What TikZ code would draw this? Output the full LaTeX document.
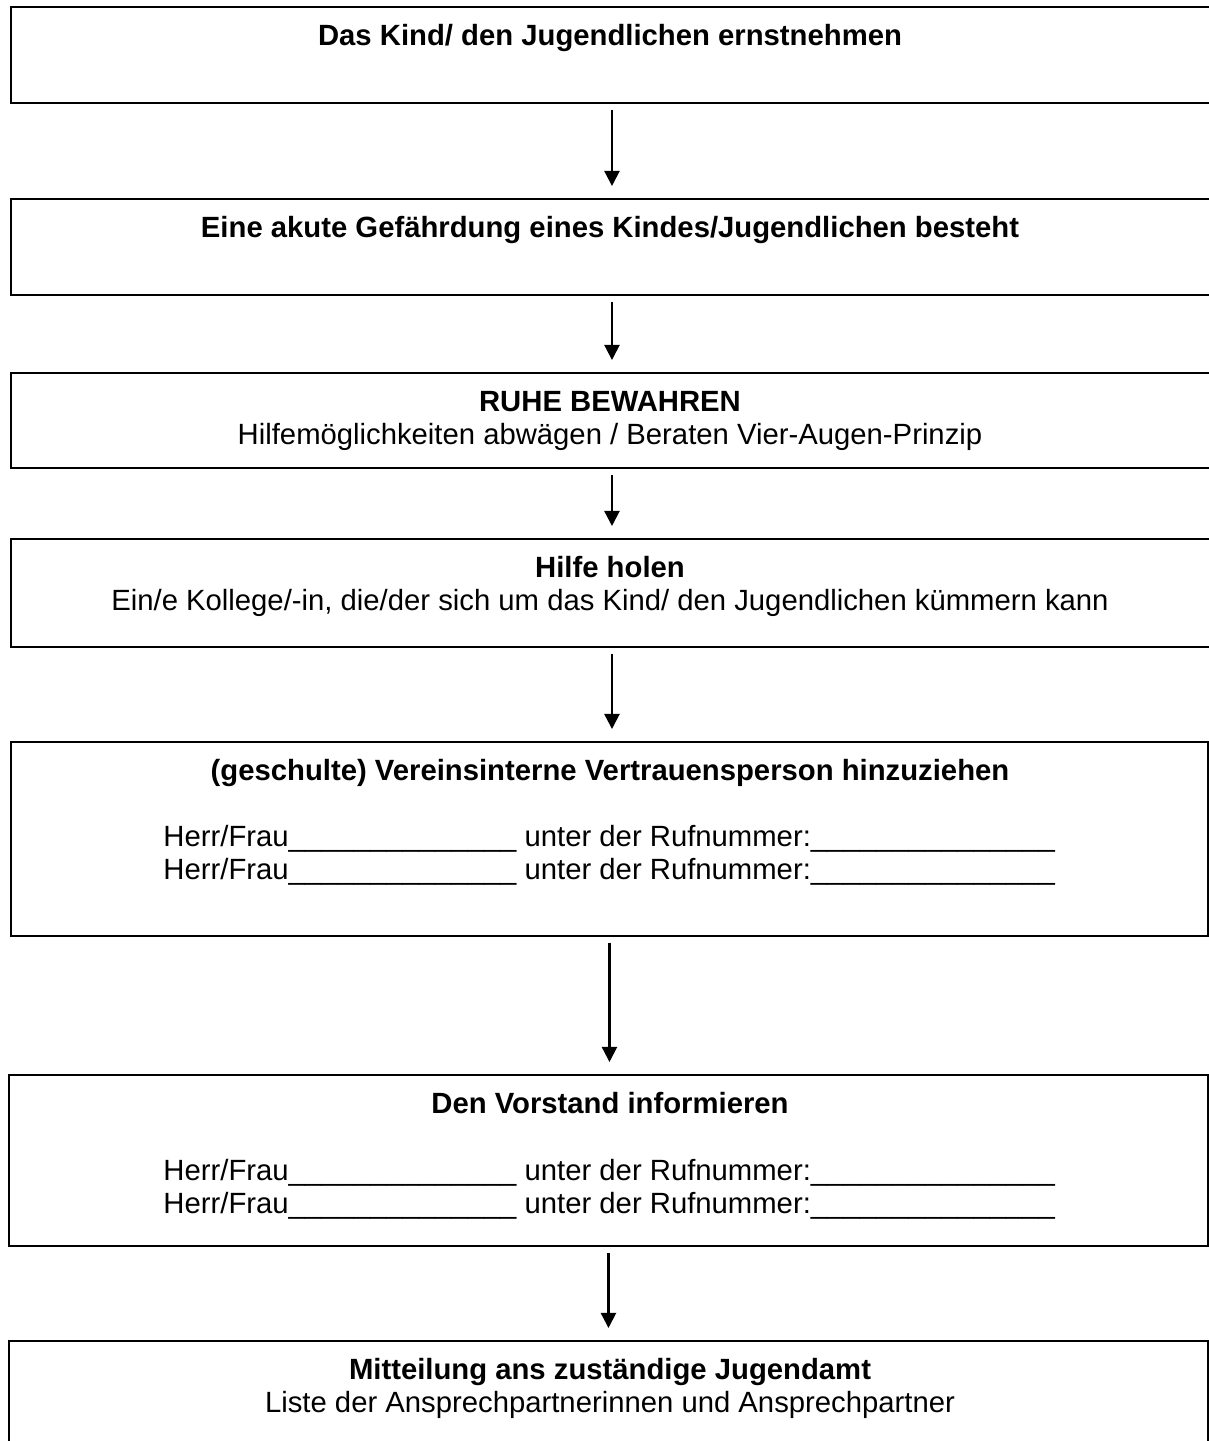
\documentclass[tikz,border=0pt]{standalone}
\usepackage{fontspec}
\setmainfont{Liberation Sans}
\usetikzlibrary{arrows.meta}

\def\pu{0.41pt}
\newcommand{\herrline}{Herr/Frau\_\_\_\_\_\_\_\_\_\_\_\_\_\_ unter der Rufnummer:\_\_\_\_\_\_\_\_\_\_\_\_\_\_\_}

\tikzset{
	box/.style={draw, line width=0.8pt, rectangle, inner sep=0pt, anchor=north west},
	title/.style={anchor=base, inner sep=0pt, font=\fontsize{12}{14}\selectfont\bfseries},
	plain/.style={anchor=base, inner sep=0pt, font=\fontsize{12}{14}\selectfont},
	entry/.style={anchor=base west, inner sep=0pt, font=\fontsize{12}{14}\selectfont},
	arr/.style={-{Triangle[width=6.2pt,length=6.2pt]}, line width=0.85pt, shorten <=6*\pu, shorten >=12*\pu}
}

\begin{document}
\begin{tikzpicture}[x=\pu, y=-\pu]
	\useasboundingbox (0,0) rectangle (1209,1441);
	\node[box, minimum width=1202*\pu, minimum height=96*\pu] (b1) at (10,6) {};
	\node[box, minimum width=1202*\pu, minimum height=96*\pu] (b2) at (10,198) {};
	\node[box, minimum width=1202*\pu, minimum height=95*\pu] (b3) at (10,372) {};
	\node[box, minimum width=1202*\pu, minimum height=108*\pu] (b4) at (10,538) {};
	\node[box, minimum width=1197*\pu, minimum height=194*\pu] (b5) at (10,741) {};
	\node[box, minimum width=1199*\pu, minimum height=171*\pu] (b6) at (8,1074) {};
	\node[box, minimum width=1199*\pu, minimum height=130*\pu] (b7) at (8,1340) {};
	\node[title] (t1) at (610,45) {Das Kind/ den Jugendlichen ernstnehmen};
	\node[title] (t2) at (610,237) {Eine akute Gefährdung eines Kindes/Jugendlichen besteht};
	\node[title] (t3) at (610,411) {RUHE BEWAHREN};
	\node[plain] (s3) at (610,444) {Hilfemöglichkeiten abwägen / Beraten Vier-Augen-Prinzip};
	\node[title] (t4) at (610,577) {Hilfe holen};
	\node[plain] (s4) at (610,610) {Ein/e Kollege/-in, die/der sich um das Kind/ den Jugendlichen kümmern kann};
	\node[title] (t5) at (610,780) {(geschulte) Vereinsinterne Vertrauensperson hinzuziehen};
	\node[entry] (e5a) at (163,846) {\herrline};
	\node[entry] (e5b) at (163,879) {\herrline};
	\node[title] (t6) at (610,1113) {Den Vorstand informieren};
	\node[entry] (e6a) at (163,1180) {\herrline};
	\node[entry] (e6b) at (163,1213) {\herrline};
	\node[title] (t7) at (610,1379) {Mitteilung ans zuständige Jugendamt};
	\node[plain] (s7) at (610,1412) {Liste der Ansprechpartnerinnen und Ansprechpartner};
	\draw[arr] (b1.south) -- (b1.south |- b2.north);
	\draw[arr] (b2.south) -- (b2.south |- b3.north);
	\draw[arr] (b3.south) -- (b3.south |- b4.north);
	\draw[arr] (b4.south) -- (b4.south |- b5.north);
	\draw[arr] (b5.south) -- (b5.south |- b6.north);
	\draw[arr] (b6.south) -- (b6.south |- b7.north);
\end{tikzpicture}
\end{document}
